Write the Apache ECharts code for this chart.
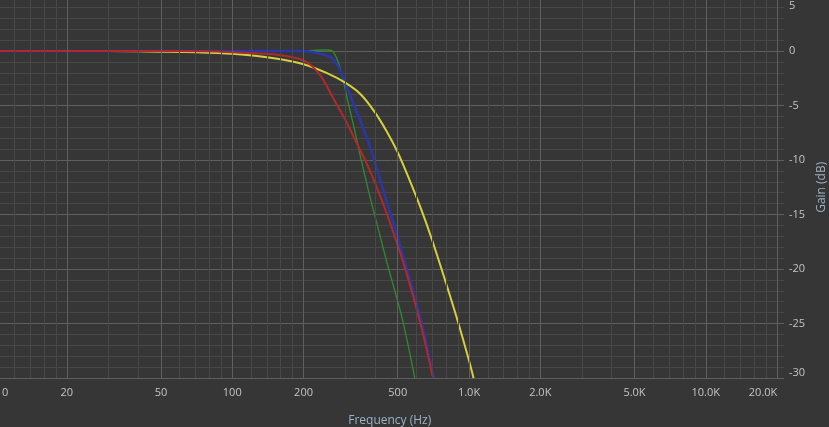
<!DOCTYPE html>
<html>
<head>
<meta charset="utf-8">
<script src="https://cdn.jsdelivr.net/npm/echarts@6/dist/echarts.min.js"></script>
<style>
html,body{margin:0;padding:0;background:#363636;}
#chart{width:829px;height:427px;}
</style>
</head>
<body>
<div id="chart"></div>
<script>
// ---- data (frequency in Hz, gain in dB) ----
const redFreq   = [10, 60, 100, 150, 200, 235, 265, 300, 340, 380, 425, 475, 540, 620, 705];
const redGain   = [0, 0, -0.1, -0.3, -0.85, -2.2, -4.2, -6.3, -8.7, -10.9, -13.5, -16.4, -20.1, -24.8, -30];

const blueFreq  = [10, 100, 200, 230, 260, 280, 300, 322, 365, 402, 443, 489, 548, 627, 710];
const blueGain  = [0, 0, 0, -0.2, -0.55, -1.4, -2.9, -4.6, -7.6, -10.3, -13.4, -16.4, -20.1, -24.7, -30];

const greenFreq = [10, 100, 200, 250, 265, 280, 295, 310, 330, 348, 377, 409, 450, 523, 590];
const greenGain = [0, 0, 0.05, 0.1, 0, -1.0, -2.8, -4.9, -7.4, -9.7, -12.9, -15.9, -19.4, -24.6, -30];

const yellowFreq = [10, 30, 50, 70, 100, 150, 200, 250, 300, 350, 400, 450, 500, 560, 630, 700, 800, 900, 1000, 1045];
const yellowGain = [0, 0, -0.05, -0.1, -0.25, -0.65, -1.2, -2.0, -2.9, -4.0, -5.6, -7.4, -9.3, -11.8, -14.6, -17.4, -21.3, -24.9, -28.4, -30];

// x-axis ticks
const majorFreqTicks = [10, 20, 50, 100, 200, 500, 1000, 2000, 5000, 10000, 20000];
const majorFreqLabels = ['10', '20', '50', '100', '200', '500', '1.0K', '2.0K', '5.0K', '10.0K', '20.0K'];
const minorFreqTicks = [12, 14, 16, 18, 30, 40, 60, 70, 80, 90,
  120, 140, 160, 180, 300, 400, 600, 700, 800, 900,
  1200, 1400, 1600, 1800, 3000, 4000, 6000, 7000, 8000, 9000,
  12000, 14000, 16000, 18000];

const FONT = '"Open Sans", "Noto Sans", sans-serif';
const MAJOR = '#5f5f5f';
const MINOR = '#484848';
const LABEL = '#c4c4c4';

function pairs(f, g) { return f.map((v, i) => [v, g[i]]); }

const markData = [];
minorFreqTicks.forEach(f => markData.push({
  xAxis: f, lineStyle: {color: MINOR, width: 1, type: 'solid'}, label: {show: false}
}));
majorFreqTicks.forEach((f, i) => {
  let txt = majorFreqLabels[i];
  let fmt;
  if (i === 0) fmt = '{l|' + txt + '}';
  else if (i === majorFreqTicks.length - 1) fmt = '{r|' + txt + '}';
  else fmt = '{n|' + txt + '}';
  markData.push({
    xAxis: f, lineStyle: {color: MAJOR, width: 1, type: 'solid'},
    label: {show: true, position: 'start', distance: 9, formatter: fmt,
      rich: {
        n: {color: LABEL, fontSize: 11, fontFamily: FONT},
        l: {color: LABEL, fontSize: 11, fontFamily: FONT, padding: [0, 0, 0, 13]},
        r: {color: LABEL, fontSize: 11, fontFamily: FONT, padding: [0, 28, 0, 0]}
      }}
  });
});

function lineSeries(name, f, g, color, width, z) {
  return {
    name, type: 'line', data: pairs(f, g), showSymbol: false, symbol: 'none',
    smooth: 0.3, z,
    lineStyle: {color, width}, itemStyle: {color}
  };
}

const chart = echarts.init(document.getElementById('chart'));
chart.setOption({
  backgroundColor: '#363636',
  animation: false,
  grid: {left: -4.5, right: 45, top: -3.4, bottom: 49, containLabel: false, outerBoundsMode: 'none'},
  xAxis: {
    type: 'log', logBase: 10, min: 10, max: 21400,
    axisLine: {show: false}, axisTick: {show: false}, axisLabel: {show: false},
    splitLine: {show: false}, minorSplitLine: {show: false},
    name: 'Frequency (Hz)', nameLocation: 'middle', nameGap: 37,
    nameTextStyle: {color: '#9cb1c5', fontSize: 12, fontFamily: FONT}
  },
  yAxis: {
    type: 'value', position: 'right', min: -30, max: 5, interval: 5,
    axisLine: {show: false}, axisTick: {show: false},
    axisLabel: {color: LABEL, fontSize: 11, fontFamily: FONT, margin: 5,
      verticalAlignMaxLabel: 'top', verticalAlignMinLabel: 'bottom',
      formatter: function (v) { return v === 5 ? '{t|5}' : String(v); },
      rich: {t: {color: LABEL, fontSize: 11, fontFamily: FONT, padding: [4, 0, 0, 0]}}},
    splitLine: {show: true, lineStyle: {color: MAJOR, width: 1}},
    minorTick: {show: false, splitNumber: 5},
    minorSplitLine: {show: true, lineStyle: {color: MINOR, width: 1}},
    name: 'Gain (dB)', nameLocation: 'middle', nameRotate: 90, nameGap: 27,
    nameTextStyle: {color: '#9cb1c5', fontSize: 12, fontFamily: FONT}
  },
  series: [
    {
      name: 'grid', type: 'line', data: [], z: 1, silent: true,
      markLine: {silent: true, symbol: 'none', animation: false, data: markData}
    },
    lineSeries('green', greenFreq, greenGain, '#2f8a2f', 1.3, 3),
    lineSeries('blue', blueFreq, blueGain, '#2a37a8', 2.5, 3),
    lineSeries('yellow', yellowFreq, yellowGain, '#d6cf3e', 2, 3),
    lineSeries('red', redFreq, redGain, '#b3292b', 2, 3)
  ]
});
</script>
</body>
</html>
